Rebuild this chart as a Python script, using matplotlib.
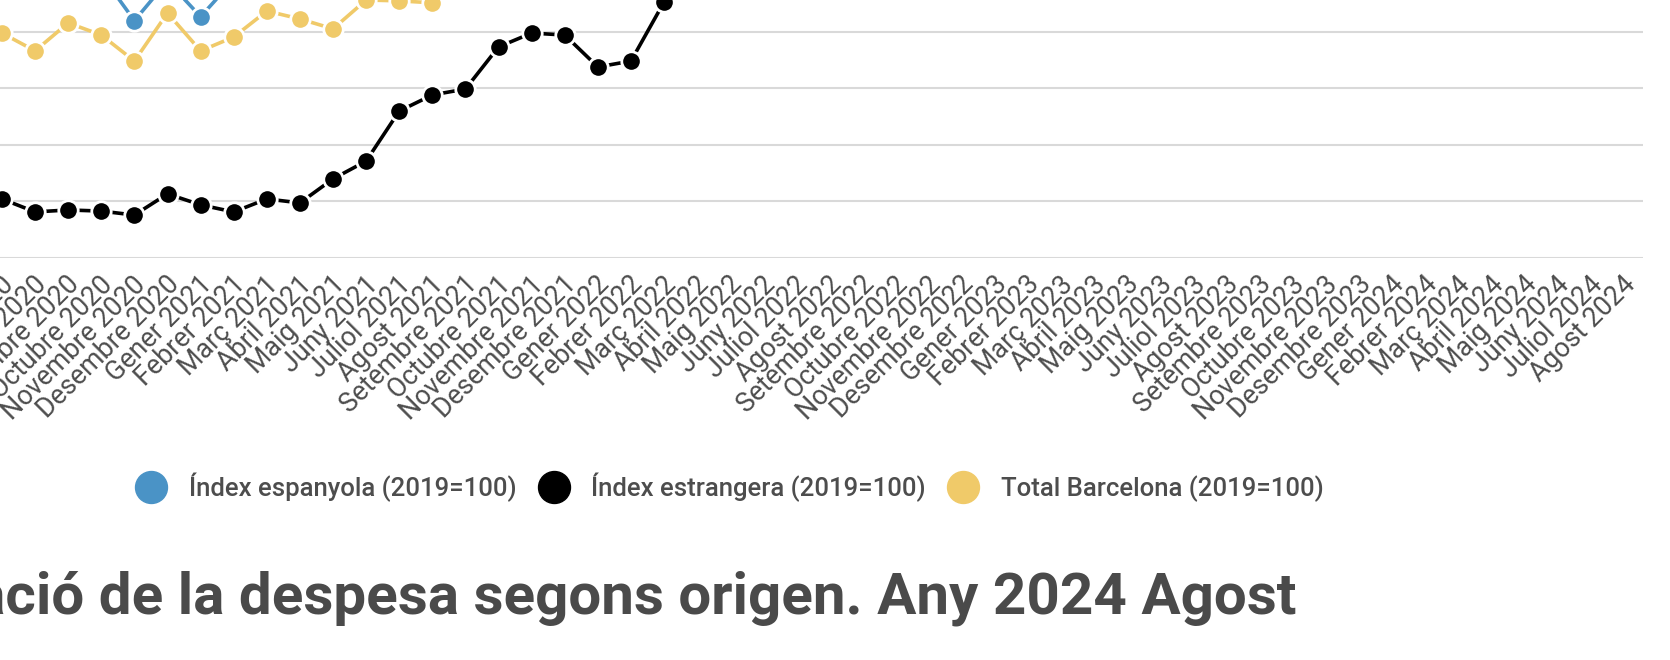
import numpy as np
import matplotlib
matplotlib.use("Agg")
import matplotlib.pyplot as plt
from matplotlib.lines import Line2D
from matplotlib.transforms import ScaledTranslation

plt.rcParams['font.family'] = ['Roboto', 'DejaVu Sans']

# month categories, Juliol 2020 .. Agost 2024
mesos = ['Gener', 'Febrer', 'Març', 'Abril', 'Maig', 'Juny', 'Juliol',
         'Agost', 'Setembre', 'Octubre', 'Novembre', 'Desembre']
categories = [f'{mesos[(6 + i) % 12]} {2020 + (6 + i) // 12}' for i in range(50)]

# index values (2019=100); NaN where the series is off the visible range
espanyola = [np.nan, np.nan, np.nan, 100.2, 84.0, 98.0, 85.4, 98.4]
estrangera = [20.9, 16.3, 17.0, 16.6, 15.2, 22.7, 18.8, 16.3, 20.9, 19.5, 28.0,
              34.3, 52.0, 57.7, 59.8, 74.7, 79.6, 78.9, 67.6, 69.7, 90.6]
total_bcn = [79.6, 73.3, 83.2, 78.9, 69.7, 86.7, 73.3, 78.2, 87.4, 84.6, 81.1,
             91.3, 91.0, 90.3]

series = [
    ('Índex espanyola (2019=100)', espanyola, '#4a93c6'),
    ('Índex estrangera (2019=100)', estrangera, '#000000'),
    ('Total Barcelona (2019=100)', total_bcn, '#f0ca69'),
]

W, H = 1670, 660
fig = plt.figure(figsize=(W / 100, H / 100), dpi=100)
ax = fig.add_axes([0, 1 - 258 / H, 1643 / W, 258 / H])

for name, vals, col in series:
    x = np.arange(len(vals))
    ax.plot(x, vals, color=col, lw=2.6, marker='o', ms=14, mec='white',
            mew=2, label=name, solid_capstyle='butt')

ax.set_xlim(-0.06, 49.57)
ax.set_ylim(0, 91.3)
ax.set_yticks([0, 20, 40, 60, 80])
ax.yaxis.grid(True, color='#d9d9d9', lw=1.5)
ax.set_axisbelow(True)
ax.tick_params(axis='y', left=False, labelleft=False)
ax.set_xticks(np.arange(len(categories)))
ax.set_xticklabels(categories, rotation=45, ha='right', va='center',
                   rotation_mode='anchor', fontsize=19.3, color='#4d4d4d')
ax.tick_params(axis='x', length=0, pad=14)
shift = ScaledTranslation(7.5 / 100, -3 / 100, fig.dpi_scale_trans)
for lbl in ax.get_xticklabels():
    lbl.set_transform(lbl.get_transform() + shift)
for s in ax.spines.values():
    s.set_visible(False)

handles = [Line2D([], [], ls='none', marker='o', ms=23, color=c, mec=c)
           for _, _, c in series]
fig.legend(handles, [n for n, _, _ in series], loc='center',
           bbox_to_anchor=(731 / W, 1 - 487 / H), ncol=3, frameon=False,
           handlelength=1.0, handletextpad=0.96,
           columnspacing=0.96, labelcolor='#4d4d4d',
           prop={'weight': 'medium', 'size': 18.5})

fig.text(1296 / W, 1 - 613 / H,
         'Variació de la despesa segons origen. Any 2024 Agost',
         ha='right', va='baseline', fontsize=42, fontweight='bold',
         color='#4a4a4a')

fig.savefig('out.png', dpi=100)
